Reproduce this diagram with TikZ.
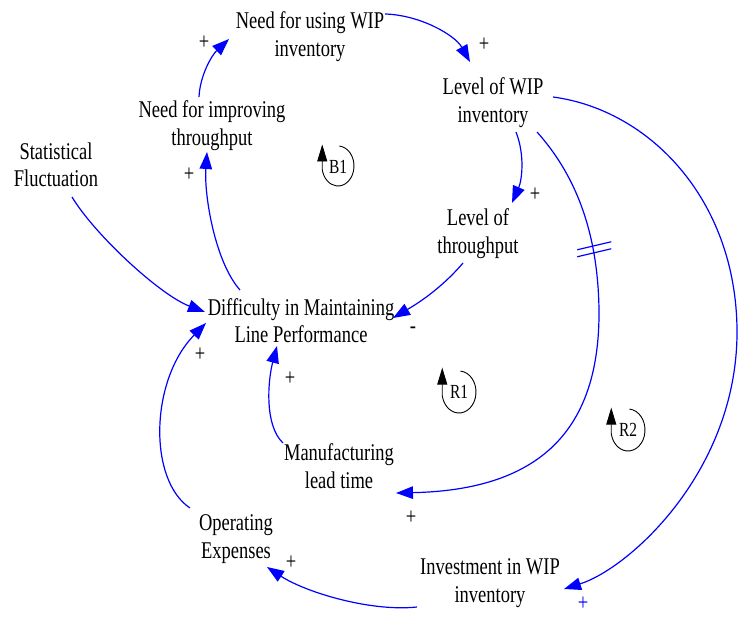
\documentclass[tikz,border=0pt]{standalone}
\usepackage{fontspec}
\setmainfont[FakeStretch=0.77]{Liberation Serif}
\usetikzlibrary{arrows.meta}
\begin{document}
\begin{tikzpicture}[x=1pt,y=-1pt,
  lbl/.style={font=\fontsize{24}{27.5}\selectfont, align=center, inner sep=0pt},
  sgn/.style={font=\fontsize{24}{27.5}\selectfont, inner sep=0pt},
  looplbl/.style={font=\fontsize{20}{24}\selectfont, inner sep=0pt},
  arr/.style={draw=blue, line width=1.2pt, -{Triangle[length=17pt,width=12.5pt]}},
  bar/.style={draw=blue, line width=1.2pt},
  loopm/.style={draw=black, line width=0.9pt, -{Triangle[length=17pt,width=10pt]}},
]
\useasboundingbox (0,0) rectangle (738,617);

% variables
\node[lbl] (nfu)   at (310,37)    {\strut Need for using WIP\\inventory\strut};
\node[lbl] (lwip)  at (493,103)   {\strut Level of WIP\\inventory\strut};
\node[lbl] (nfi)   at (212,126)   {\strut Need for improving\\throughput\strut};
\node[lbl] (stat)  at (56,167.5)  {\strut Statistical\\Fluctuation\strut};
\node[lbl] (lt)    at (478,234)   {\strut Level of\\throughput\strut};
\node[lbl] (diff)  at (301,323.5) {\strut Difficulty in Maintaining\\Line Performance\strut};
\node[lbl] (manuf) at (339,469)   {\strut Manufacturing\\lead time\strut};
\node[lbl] (opex)  at (236,539)   {\strut Operating\\Expenses\strut};
\node[lbl] (inv)   at (490,583)   {\strut Investment in WIP\\inventory\strut};

% links
\draw[arr] ([shift={(75,-23)}]nfu.center) .. controls (420,15) and (455,35) .. ([shift={(-23,-41)}]lwip.center);
\draw[arr] ([shift={(-13,-29)}]nfi.center) .. controls (200,75) and (212,55) .. ([shift={(-81,2)}]nfu.center);
\draw[arr] ([shift={(-61,-33.5)}]diff.center) .. controls (215,262) and (204,195) .. ([shift={(-5,26)}]nfi.center);
\draw[arr] ([shift={(16,29.5)}]stat.center) .. controls (95,235) and (160,295) .. ([shift={(-96,-11.5)}]diff.center);
\draw[arr] ([shift={(-15,29)}]lt.center) .. controls (440,290) and (415,305) .. ([shift={(92,-5.5)}]diff.center);
\draw[arr] ([shift={(23,29)}]lwip.center) .. controls (525,155) and (522,180) .. ([shift={(34,-31)}]lt.center);
\draw[arr] ([shift={(44,29)}]lwip.center) .. controls (580,180) and (598,240) .. (599,310)
   coordinate[pos=0.7] (dbar)
   .. controls (600,430) and (540,490) .. ([shift={(57,24)}]manuf.center);
\draw[arr] ([shift={(60,-6)}]lwip.center) .. controls (650,110) and (736,200) .. (737,330)
   .. controls (738,470) and (630,568) .. ([shift={(74,6)}]inv.center);
\draw[arr] ([shift={(-56,-26)}]manuf.center) .. controls (264,425) and (268,380) .. ([shift={(-24,22.5)}]diff.center);
\draw[arr] ([shift={(-46,-31)}]opex.center) .. controls (148,480) and (150,380) .. ([shift={(-95,-0.5)}]diff.center);
\draw[arr] ([shift={(-73,24)}]inv.center) .. controls (370,612) and (305,592) .. ([shift={(31,28)}]opex.center);

% delay mark
\draw[bar] ([shift={(-16,0)}]dbar) -- ([shift={(18,-8)}]dbar);
\draw[bar] ([shift={(-16,7)}]dbar) -- ([shift={(18,-1)}]dbar);

% polarity signs
\node[sgn] (p1) at (204,43) {+};
\node[sgn] (p2) at (484,45) {+};
\node[sgn] (p3) at (189,175) {+};
\node[sgn] (p4) at (535,195) {+};
\node[sgn] (p5) at (413,330) {-};
\node[sgn] (p6) at (200,355) {+};
\node[sgn] (p7) at (290,379) {+};
\node[sgn] (p8) at (411,518) {+};
\node[sgn] (p9) at (291,563) {+};
\node[sgn, text=blue] (p10) at (583,604) {+};

% loop markers
\node[looplbl] (b1) at (338,167) {B1};
\draw[loopm] (338,166) ++(-85:16 and 20) arc[start angle=-85, end angle=170, x radius=16, y radius=20] -- ++(0,-25);
\node[looplbl] (r1) at (459,392) {R1};
\draw[loopm] (459,392) ++(-85:17 and 21) arc[start angle=-85, end angle=170, x radius=17, y radius=21] -- ++(0,-28);
\node[looplbl] (r2) at (628,430) {R2};
\draw[loopm] (628,430) ++(-85:17 and 21) arc[start angle=-85, end angle=170, x radius=17, y radius=21] -- ++(0,-26);
\end{tikzpicture}
\end{document}
